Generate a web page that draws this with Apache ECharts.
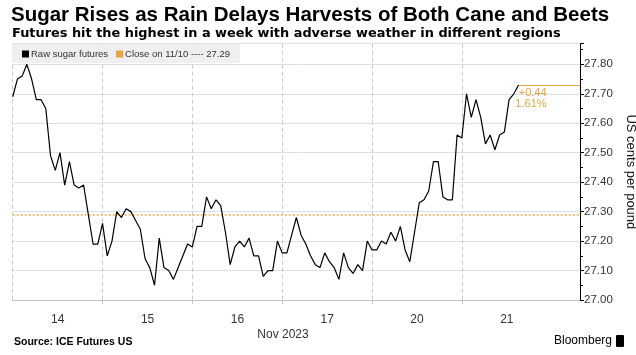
<!DOCTYPE html>
<html><head><meta charset="utf-8">
<script src="https://cdn.jsdelivr.net/npm/echarts@6/dist/echarts.min.js"></script>
<style>html,body{margin:0;padding:0;background:#fff}#c{width:636px;height:355px}</style>
</head><body><div id="c"></div>
<script>
const titleText = 'Sugar Rises as Rain Delays Harvests of Both Cane and Beets';
const subtitleText = 'Futures hit the highest in a week with adverse weather in different regions';
const dayLabels = ['14', '15', '16', '17', '20', '21'];
const monthLabel = 'Nov 2023';
const pointsPerDay = 19;
const padSlots = 7;
const seriesName = 'Raw sugar futures';
const closeName = 'Close on 11/10 ---- 27.29';
const closeValue = 27.29;
const changeLabels = ['+0.44', '1.61%'];
const yMin = 27.00, yMax = 27.87, yStep = 0.1;
const yAxisName = 'US cents per pound';
const sourceText = 'Source: ICE Futures US';
const brandText = 'Bloomberg';

const sugar = [
  // 14
  27.69, 27.75, 27.76, 27.80, 27.75, 27.68, 27.68, 27.65, 27.49, 27.44,
  27.50, 27.39, 27.47, 27.39, 27.38, 27.39, 27.29, 27.19, 27.19,
  // 15
  27.26, 27.15, 27.20, 27.30, 27.28, 27.31, 27.30, 27.27, 27.24, 27.14,
  27.11, 27.05, 27.21, 27.11, 27.10, 27.07, 27.11, 27.15, 27.19,
  // 16
  27.18, 27.25, 27.25, 27.35, 27.31, 27.34, 27.32, 27.23, 27.12, 27.18,
  27.20, 27.18, 27.21, 27.15, 27.15, 27.08, 27.10, 27.10, 27.20,
  // 17
  27.16, 27.16, 27.22, 27.28, 27.22, 27.19, 27.15, 27.12, 27.11, 27.16,
  27.13, 27.11, 27.07, 27.16, 27.11, 27.09, 27.12, 27.10, 27.20,
  // 20
  27.17, 27.17, 27.20, 27.19, 27.23, 27.20, 27.25, 27.17, 27.13, 27.23,
  27.33, 27.34, 27.37, 27.47, 27.47, 27.35, 27.34, 27.34, 27.56,
  // 21
  27.55, 27.70, 27.62, 27.68, 27.62, 27.53, 27.56, 27.51, 27.56, 27.57,
  27.68, 27.70, 27.73
];

const categories = [];
dayLabels.forEach(d => { for (let k = 0; k < pointsPerDay; k++) categories.push(d + '#' + k); });
for (let k = 0; k < padSlots; k++) categories.push('pad#' + k);

const lastIdx = sugar.length - 1;
const lastVal = sugar[lastIdx];
const dayCount = dayLabels.length;
const isBoundary = i => i % pointsPerDay === 0 && i < dayCount * pointsPerDay;
const FONT = '"Liberation Sans", Arial, sans-serif';
const WIDE = '"DejaVu Sans", Verdana, sans-serif';
const ORANGE = '#e9a440';

const chart = echarts.init(document.getElementById('c'), null, {renderer: 'canvas'});
chart.setOption({
  animation: false,
  textStyle: {fontFamily: FONT},
  grid: {left: 12.7, right: 56, top: 43.7, bottom: 55, containLabel: false, outerBoundsMode: 'none'},
  legend: {
    left: 12, top: 44, padding: [5, 10, 4, 10], itemGap: 8,
    itemWidth: 7, itemHeight: 7, icon: 'rect',
    backgroundColor: '#efefef',
    textStyle: {fontSize: 9.5, color: '#333', fontFamily: FONT, padding: [0, 0, 0, -3]},
    data: [seriesName, closeName]
  },
  xAxis: {
    type: 'category', boundaryGap: false, data: categories,
    axisLine: {show: true, lineStyle: {color: '#c4c4c4', width: 1}},
    axisTick: {show: true, interval: (i) => isBoundary(i) && i > 0, length: 4, lineStyle: {color: '#c4c4c4'}},
    axisLabel: {
      interval: (i) => i % pointsPerDay === 9 && i < dayCount * pointsPerDay,
      formatter: (v, i) => dayLabels[Math.floor(i / pointsPerDay)],
      fontSize: 12, color: '#333', margin: 14, padding: [0, 0, 0, 5]
    },
    splitLine: {show: true, interval: (i) => isBoundary(i), lineStyle: {color: '#c8c8c8', type: [4, 3], width: 1}}
  },
  yAxis: {
    type: 'value', position: 'right', min: yMin, max: yMax, interval: yStep,
    axisLine: {show: true, lineStyle: {color: '#000', width: 1}},
    axisTick: {show: true, length: 4, lineStyle: {color: '#000'}},
    minorTick: {show: true, splitNumber: 2, length: 3, lineStyle: {color: '#000'}},
    axisLabel: {formatter: v => v.toFixed(2), showMaxLabel: false, fontSize: 11.5, color: '#333', margin: 4},
    splitLine: {show: true, lineStyle: {color: '#e0e0e0', width: 1}},
    name: yAxisName, nameLocation: 'middle', nameRotate: -90, nameGap: 40,
    nameTextStyle: {fontSize: 13, color: '#111'}
  },
  series: [
    {
      name: seriesName, type: 'line', data: sugar, showSymbol: false, symbol: 'none',
      itemStyle: {color: '#000'}, lineStyle: {color: '#000', width: 1.2}, z: 5,
      markLine: {
        silent: true, symbol: 'none', animation: false,
        lineStyle: {color: ORANGE, type: 'solid', width: 1},
        label: {
          show: true, position: 'insideStartBottom', formatter: changeLabels.join('\n'),
          color: ORANGE, fontSize: 11, lineHeight: 11, align: 'right', distance: [28, 3]
        },
        data: [[{coord: [categories[lastIdx], lastVal]}, {coord: [categories[categories.length - 1], lastVal]}]]
      }
    },
    {
      name: closeName, type: 'line', data: [], itemStyle: {color: ORANGE}, lineStyle: {color: ORANGE},
      markLine: {
        silent: true, symbol: 'none', animation: false,
        lineStyle: {color: '#f2c47e', type: 'dotted', width: 2},
        label: {show: false},
        data: [{yAxis: closeValue}]
      }
    }
  ],
  graphic: [
    {type: 'text', x: 11, y: 5, style: {text: titleText, font: 'bold 20.5px ' + FONT, fill: '#000'}},
    {type: 'text', x: 12, y: 27, style: {text: subtitleText, font: 'bold 12.9px ' + WIDE, fill: '#000'}},
    {type: 'text', x: 283, y: 335, style: {text: monthLabel, font: '12px ' + FONT, fill: '#333', textAlign: 'center', textVerticalAlign: 'middle'}},
    {type: 'text', x: 14, y: 342, style: {text: sourceText, font: 'bold 10.5px ' + FONT, fill: '#000', textVerticalAlign: 'middle'}},
    {type: 'text', x: 612, y: 341, style: {text: brandText, font: '12px ' + FONT, fill: '#000', textAlign: 'right', textVerticalAlign: 'middle'}},
    {type: 'rect', shape: {x: 616, y: 335, width: 8, height: 12, r: 1}, style: {fill: '#000'}}
  ]
});
</script></body></html>
